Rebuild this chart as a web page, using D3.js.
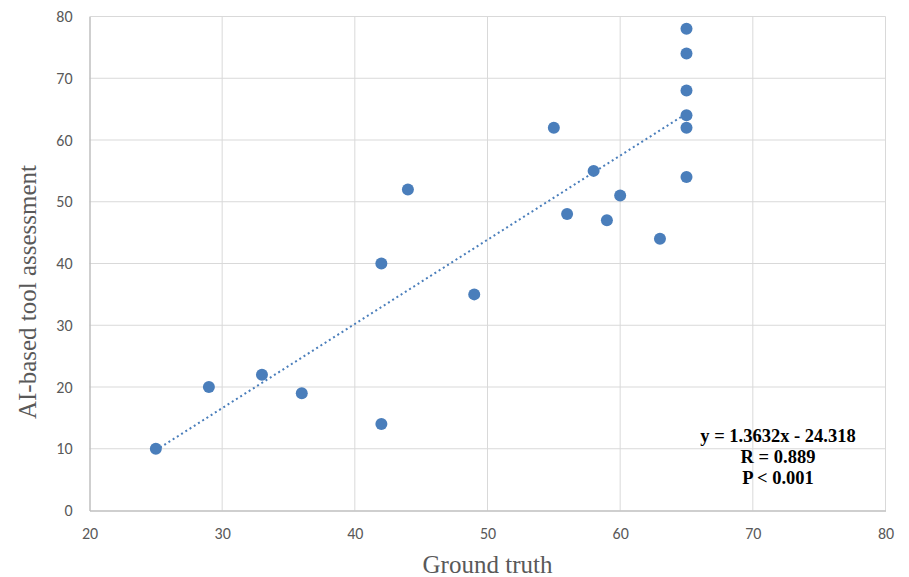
<!DOCTYPE html>
<html><head><meta charset="utf-8">
<script src="https://cdn.jsdelivr.net/npm/d3@7"></script>
<style>body{margin:0;background:#fff}</style>
</head><body>
<svg id="c" width="909" height="577"></svg>
<script>
const groundTruth = [25, 29, 33, 36, 42, 42, 44, 49, 55, 56, 58, 59, 60, 63, 65, 65, 65, 65, 65, 65];
const aiAssessment = [10, 20, 22, 19, 40, 14, 52, 35, 62, 48, 55, 47, 51, 44, 78, 74, 68, 64, 62, 54];
const xTicks = [20, 30, 40, 50, 60, 70, 80];
const yTicks = [0, 10, 20, 30, 40, 50, 60, 70, 80];
const slope = 1.3632, intercept = -24.318;
const fitRange = [25, 65];
const eqLines = ["y = 1.3632x - 24.318", "R = 0.889", "P < 0.001"];

const svg = d3.select("#c");
const x = d3.scaleLinear().domain([20, 80]).range([89.5, 885.5]);
const y = d3.scaleLinear().domain([0, 80]).range([510.5, 16.5]);

// gridlines
svg.append("g").selectAll("line").data(yTicks.filter(d => d > 0)).join("line")
  .attr("x1", x(20)).attr("x2", x(80)).attr("y1", d => y(d)).attr("y2", d => y(d))
  .attr("stroke", "#d9d9d9").attr("stroke-width", 1);
svg.append("g").selectAll("line").data(xTicks.filter(d => d > 20)).join("line")
  .attr("y1", y(0)).attr("y2", y(80)).attr("x1", d => x(d)).attr("x2", d => x(d))
  .attr("stroke", "#d9d9d9").attr("stroke-width", 1);

// axes
const xAxis = d3.axisBottom(x).tickValues(xTicks).tickSize(0).tickPadding(17);
const yAxis = d3.axisLeft(y).tickValues(yTicks).tickSize(0).tickPadding(17);
const gx = svg.append("g").attr("transform", `translate(0,${y(0)})`).call(xAxis);
const gy = svg.append("g").attr("transform", `translate(${x(20)},0)`).call(yAxis);
[gx, gy].forEach(g => {
  g.select(".domain").attr("stroke", "#bfbfbf").attr("stroke-width", 1.5);
  g.selectAll("text").attr("fill", "#595959").style("font-family", "Carlito, 'Liberation Sans', Arial, sans-serif").style("font-size", "16px");
});

// trendline
svg.append("line")
  .attr("x1", x(fitRange[0])).attr("y1", y(slope * fitRange[0] + intercept))
  .attr("x2", x(fitRange[1])).attr("y2", y(slope * fitRange[1] + intercept))
  .attr("stroke", "#4a7ebb").attr("stroke-width", 2)
  .attr("stroke-dasharray", "2,3");

// points
svg.append("g").selectAll("circle").data(groundTruth.map((g, i) => [g, aiAssessment[i]])).join("circle")
  .attr("cx", d => x(d[0])).attr("cy", d => y(d[1])).attr("r", 6)
  .attr("fill", "#4a7ebb");

// axis titles
svg.append("text").attr("x", x(50)).attr("y", 573).attr("text-anchor", "middle")
  .attr("fill", "#595959").style("font-family", "'Liberation Serif', 'Times New Roman', serif").style("font-size", "25px")
  .text("Ground truth");
svg.append("text").attr("transform", `translate(36,292) rotate(-90)`).attr("text-anchor", "middle")
  .attr("fill", "#595959").style("font-family", "'Liberation Serif', 'Times New Roman', serif").style("font-size", "25px")
  .text("AI-based tool assessment");

// equation
svg.append("g").selectAll("text").data(eqLines).join("text")
  .attr("x", 778).attr("y", (d, i) => 442 + i * 21).attr("text-anchor", "middle")
  .attr("fill", "#000").style("font-family", "'Liberation Serif', 'Times New Roman', serif")
  .style("font-size", "18.5px").style("font-weight", "bold")
  .text(d => d);
</script>
</body></html>
